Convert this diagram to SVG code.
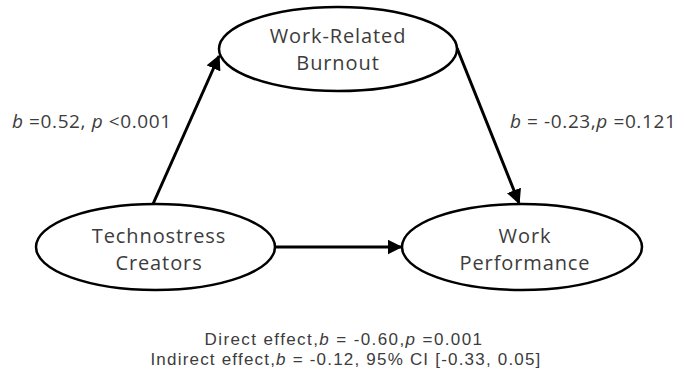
<svg xmlns="http://www.w3.org/2000/svg" width="678" height="378" viewBox="0 0 678 378">
  <style>
    .node ellipse { fill: #ffffff; stroke: #000000; stroke-width: 2.5; }
    .node text { font-family: "Open Sans", "Liberation Sans", sans-serif; font-size: 20px; letter-spacing: 0.9px; fill: #3c3c3c; text-anchor: middle; }
    .edge { stroke: #000000; stroke-width: 3; fill: none; marker-end: url(#arrow); }
    .lbl { font-family: "Open Sans", "Liberation Sans", sans-serif; font-size: 19px; letter-spacing: 0.6px; fill: #3c3c3c; }
    .note { font-family: "Liberation Sans", "Open Sans", sans-serif; font-size: 17px; fill: #3c3c3c; text-anchor: middle; }
  </style>
  <defs>
    <marker id="arrow" viewBox="0 0 10 10" refX="9" refY="5" markerWidth="5" markerHeight="5" markerUnits="strokeWidth" orient="auto">
      <path d="M0,0 L10,5 L0,10 z" fill="#000000"/>
    </marker>
  </defs>
  <rect width="678" height="378" fill="#ffffff"/>

  <!-- paths between the three constructs -->
  <g id="connectors">
    <line class="edge" x1="153" y1="204" x2="219" y2="56"/>
    <line class="edge" x1="457" y1="48" x2="519" y2="203"/>
    <line class="edge" x1="276" y1="247" x2="401" y2="247"/>
  </g>

  <g id="burnout" class="node">
    <ellipse cx="338" cy="49" rx="119" ry="42"/>
    <text x="338" y="43">Work-Related</text>
    <text x="338" y="70">Burnout</text>
  </g>
  <g id="technostress" class="node">
    <ellipse cx="155.5" cy="247" rx="119.5" ry="43"/>
    <text x="159" y="243">Technostress</text>
    <text x="159" y="270">Creators</text>
  </g>
  <g id="performance" class="node">
    <ellipse cx="522" cy="247" rx="120" ry="43"/>
    <text x="525" y="243">Work</text>
    <text x="525" y="270">Performance</text>
  </g>

  <!-- path coefficients and effect summary -->
  <g id="labels">
    <text class="lbl" x="12" y="128"><tspan font-style="italic">b</tspan> =0.52, <tspan font-style="italic">p</tspan> &lt;0.001</text>
    <text class="lbl" x="510" y="128"><tspan font-style="italic">b</tspan> = -0.23,<tspan font-style="italic">p</tspan> =0.121</text>
    <text class="note" x="344" y="345" letter-spacing="1.4">Direct effect,<tspan font-style="italic">b</tspan> = -0.60,<tspan font-style="italic">p</tspan> =0.001</text>
    <text class="note" x="346" y="365" letter-spacing="1.2">Indirect effect,<tspan font-style="italic">b</tspan> = -0.12, 95% CI [-0.33, 0.05]</text>
  </g>
</svg>
